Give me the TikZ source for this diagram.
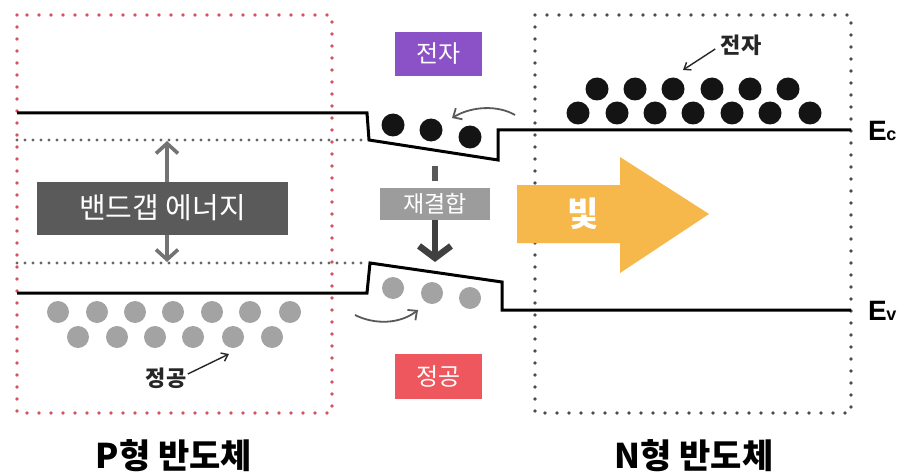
\documentclass[tikz,border=0pt]{standalone}
\usepackage{fontspec}
\setmainfont{Liberation Sans}
\newfontfamily\kr{Noto Sans CJK KR}
\usetikzlibrary{arrows.meta}
\definecolor{pviolet}{HTML}{8A52C6}
\definecolor{hred}{HTML}{EE575D}
\definecolor{rgray}{HTML}{9C9C9C}
\definecolor{bgdark}{HTML}{5A5A5A}
\definecolor{lyellow}{HTML}{F6B84B}
\definecolor{holegray}{HTML}{A3A3A3}
\definecolor{boxred}{HTML}{D9505E}
\begin{document}
\begin{tikzpicture}[x=1pt,y=-1pt,
  reddots/.style={draw=boxred, line width=3.6pt, line cap=round, dash pattern=on 0pt off 12pt},
  darkdots/.style={draw=black!70, line width=3.6pt, line cap=round, dash pattern=on 0pt off 12pt},
  gapdots/.style={draw=black!60, line width=3.2pt, line cap=round, dash pattern=on 0pt off 8pt},
  band/.style={draw=black, line width=3pt, line join=miter},
  elec/.style={circle, fill=black!92, minimum size=23pt, inner sep=0pt},
  hole/.style={circle, fill=holegray, minimum size=22pt, inner sep=0pt},
  tagbox/.style={inner sep=0pt, text=white, font=\kr\fontsize{24}{24}\selectfont},
  lbl/.style={font=\kr\bfseries\fontsize{22}{22}\selectfont, text=black!85},
  thinarrow/.style={draw=black!85, line width=1.4pt, -{Straight Barb[length=6pt,width=9pt]}},
  curvarrow/.style={draw=black!65, line width=1.8pt, -{Straight Barb[length=7pt,width=13pt]}},
  title/.style={font=\kr\bfseries\fontsize{34}{34}\selectfont}
]
\useasboundingbox (0,0) rectangle (915,476);
\fill[white] (0,0) rectangle (915,476);

% region boxes
\draw[reddots] (17,15) rectangle (332,413);
\draw[darkdots] (535,15) rectangle (851,413);

% band-gap guide lines
\draw[gapdots] (17,140) -- (362,140);
\draw[gapdots] (17,263) -- (366,263);

% light arrow
\fill[lyellow] (517,185) -- (620,185) -- (620,157) -- (709,214) -- (620,273) -- (620,243) -- (517,243) -- cycle;
\node[font=\kr\bfseries\fontsize{34}{34}\selectfont, text=white] (light) at (583,214) {빛};

% conduction and valence bands
\draw[band] (17,113) -- (367,113) -- (369,140) -- (498,160) -- (498,130) -- (851,130);
\draw[band] (17,293) -- (367,293) -- (370,263) -- (502,282) -- (502,310) -- (851,310);

\node[font=\bfseries\fontsize{28}{28}\selectfont, anchor=west, inner sep=0pt] (Ec) at (868,131) {E\kern-0.5pt{\fontsize{18}{18}\selectfont c}};
\node[font=\bfseries\fontsize{28}{28}\selectfont, anchor=west, inner sep=0pt] (Ev) at (868,311) {E\kern-0.5pt{\fontsize{18}{18}\selectfont v}};

% band gap arrow and label
\coordinate (gtop) at (167,141);
\coordinate (gbot) at (167,262);
\draw[draw=black!55, line width=3.6pt, {Straight Barb[length=10pt,width=22pt]}-{Straight Barb[length=10pt,width=22pt]}] (gtop) -- (gbot);
\node[tagbox, fill=bgdark, minimum width=251pt, minimum height=53pt, font=\kr\fontsize{29}{29}\selectfont] (gap) at (162.5,208) {밴드갭 에너지};

% P-side holes
\foreach \x [count=\i] in {58,97,135,173,212,250,290}
  \node[hole] (ha\i) at (\x,312) {};
\foreach \x [count=\i] in {78,117,155,193,233,272}
  \node[hole] (hb\i) at (\x,337) {};
\node[lbl] (hlbl) at (166,378) {정공};
\coordinate (hpt) at (229,354);
\draw[thinarrow] (hlbl.east) ++(-2,-4) -- (hpt);

% N-side electrons
\foreach \x [count=\i] in {597,635,673,712,750,788}
  \node[elec] (ea\i) at (\x,89) {};
\foreach \x [count=\i] in {578,617,655,693,732,770,810}
  \node[elec] (eb\i) at (\x,113) {};
\node[lbl] (elbl) at (741,45) {전자};
\coordinate (ept) at (683,70);
\draw[thinarrow] (elbl.west) ++(-2,4) -- (ept);

% junction electrons
\node[elec] (je1) at (393,125) {};
\node[elec] (je2) at (431,130) {};
\node[elec] (je3) at (470,137) {};
\coordinate (ecs) at (515,115);
\coordinate (ece) at (452,118);
\draw[curvarrow] (ecs) .. controls (498,105) and (472,106) .. (ece);

% junction holes
\node[hole] (jh1) at (393,288) {};
\node[hole] (jh2) at (432,293) {};
\node[hole] (jh3) at (470,298) {};
\coordinate (hcs) at (355,315);
\coordinate (hce) at (418,310);
\draw[curvarrow] (hcs) .. controls (375,325) and (400,324) .. (hce);

% tags
\node[tagbox, fill=pviolet, minimum width=87pt, minimum height=44pt] (etag) at (438.5,54) {전자};
\node[tagbox, fill=hred, minimum width=87pt, minimum height=45pt] (htag) at (438.5,376) {정공};
\node[tagbox, fill=rgray, minimum width=110pt, minimum height=32pt, font=\kr\fontsize{23}{23}\selectfont] (rtag) at (435,204) {재결합};

% recombination
\coordinate (rdash1) at (435,166);
\coordinate (rdash2) at (435,181);
\draw[draw=black!65, line width=6pt] (rdash1) -- (rdash2);
\coordinate (rtip) at (435,262);
\draw[draw=black!75, line width=6.5pt, -{Straight Barb[length=12pt,width=32pt]}] (rtag.south) -- (rtip);

% titles
\node[title] (ptitle) at (174,456) {P형 반도체};
\node[title] (ntitle) at (694,456) {N형 반도체};
\end{tikzpicture}
\end{document}
